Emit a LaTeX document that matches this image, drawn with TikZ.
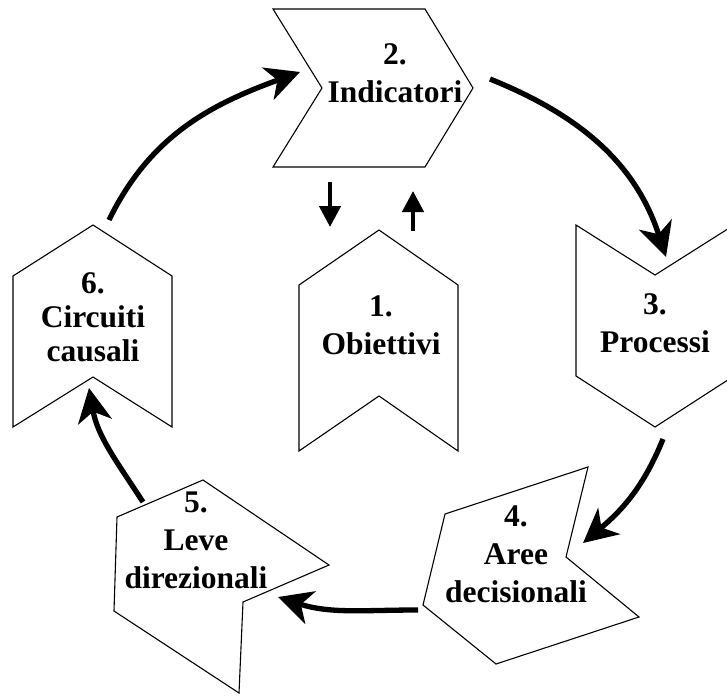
\documentclass[tikz,border=0pt]{standalone}
\usepackage{fontspec}
\setmainfont{Liberation Serif}
\usetikzlibrary{arrows.meta}

\tikzset{
  chevron/.style={draw=black, line width=1.1pt, fill=white, line join=miter},
  label/.style={align=center, anchor=base, inner sep=0pt,
    font=\bfseries\fontsize{31.5}{38}\selectfont},
  cycle arrow/.style={line width=5.3pt,
    -{Stealth[length=34pt,width=34pt,inset=10pt]}},
  link arrow/.style={line width=4.5pt,
    -{Triangle[length=21pt,width=21pt]}}
}

\begin{document}
\begin{tikzpicture}[x=1pt,y=1pt]
  % page frame
  \fill[white] (0,0) rectangle (727,-695);
  \useasboundingbox (0,0) rectangle (727,-695);
  \begin{scope}
  \clip (0,0) rectangle (727,-695);

  % the six chevron blocks
  \draw[chevron] (273,-9) -- (425,-9) -- (473,-88) -- (425,-167) -- (273,-167) -- (322,-88) -- cycle;
  \draw[chevron] (299,-285) -- (379,-230) -- (458,-285) -- (458,-451) -- (379,-396) -- (299,-451) -- cycle;
  \draw[chevron] (576,-225) -- (655,-275) -- (734,-225) -- (734,-376) -- (655,-427) -- (576,-376) -- cycle;
  \draw[chevron] (445,-514) -- (588,-467) -- (566,-557) -- (639,-617) -- (496,-664) -- (423,-605) -- cycle;
  \draw[chevron] (117,-517) -- (203,-480) -- (329,-565) -- (243,-602) -- (239,-693) -- (114,-611) -- cycle;
  \draw[chevron] (13,-276) -- (93,-225) -- (172,-276) -- (172,-427) -- (93,-377) -- (13,-427) -- cycle;
  \end{scope}

  % block captions (anchored on the baseline of their last line)
  \node[label] (obiettivi)   at (381,-354) {1.\\Obiettivi};
  \node[label] (indicatori)  at (395,-103) {2.\\Indicatori};
  \node[label] (processi)    at (655,-352) {3.\\Processi};
  \node[label] (aree)        at (516,-602) {4.\\Aree\\decisionali};
  \node[label] (leve)        at (196,-588) {5.\\Leve\\direzionali};
  \node[label, font=\bfseries\fontsize{31.5}{34}\selectfont]
               (circuiti)    at (93,-361)  {6.\\Circuiti\\causali};

  % arrow end points
  \coordinate (c6s) at (109,-220);  \coordinate (c2e) at (300,-72);
  \coordinate (c2s) at (490,-79);   \coordinate (c3e) at (666,-257);
  \coordinate (c3s) at (663,-439);  \coordinate (c4e) at (583,-543);
  \coordinate (c4s) at (418,-610);  \coordinate (c5e) at (278,-597);
  \coordinate (c5s) at (143,-502);  \coordinate (c6e) at (89,-388);
  \coordinate (d1s) at (330,-182);  \coordinate (d1e) at (330,-227);
  \coordinate (u1s) at (413,-231);  \coordinate (u1e) at (413,-191);

  % the cycle
  \draw[cycle arrow] (c6s) to[out=64,in=200] (c2e);
  \draw[cycle arrow] (c2s) to[out=-22,in=108] (c3e);
  \draw[cycle arrow] (c3s) to[out=-112,in=40] (c4e);
  \draw[cycle arrow] (c4s) to[out=180,in=-18] (c5e);
  \draw[cycle arrow] (c5s) to[out=123,in=-80] (c6e);

  % exchange between objectives and indicators
  \draw[link arrow] (d1s) -- (d1e);
  \draw[link arrow] (u1s) -- (u1e);
\end{tikzpicture}
\end{document}
